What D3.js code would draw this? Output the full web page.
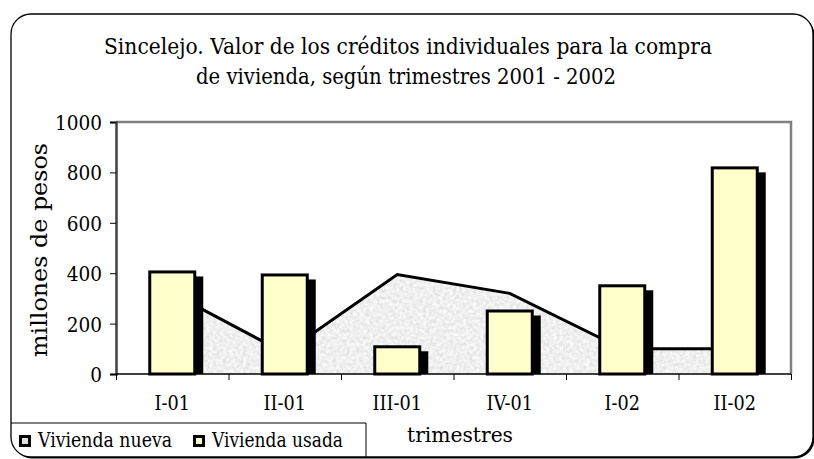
<!DOCTYPE html>
<html><head><meta charset="utf-8">
<script src="https://cdn.jsdelivr.net/npm/d3@7"></script>
<style>body{margin:0;background:#fff}</style>
</head><body><svg id="c" width="814" height="459" xmlns="http://www.w3.org/2000/svg"></svg>
<script>
const categories = ["I-01","II-01","III-01","IV-01","I-02","II-02"];
const viviendaUsada = [405, 393, 108, 250, 350, 818];
const viviendaNueva = [320, 83, 395, 320, 100, 100];
const yTicks = [0, 200, 400, 600, 800, 1000];
const titleLines = ["Sincelejo. Valor de los créditos individuales para la compra", "de vivienda, según trimestres 2001 - 2002"];
const seriesNames = ["Vivienda nueva", "Vivienda usada"];
const yTitle = "millones de pesos";
const xTitle = "trimestres";

const svg = d3.select("#c");
const F = "'DejaVu Serif', serif";
const L = 116, R = 791, T = 122, B = 374;
const YELLOW = "#FFFFCC";

function condense(sel, f) {
  sel.each(function () {
    const w = this.getComputedTextLength();
    d3.select(this).attr("textLength", w * f).attr("lengthAdjust", "spacingAndGlyphs");
  });
}

// defs: noise texture
const defs = svg.append("defs");
const filt = defs.append("filter").attr("id", "noise").attr("filterUnits", "userSpaceOnUse")
  .attr("x", 0).attr("y", 0).attr("width", 814).attr("height", 459);
filt.append("feTurbulence").attr("type", "fractalNoise").attr("baseFrequency", 0.3).attr("numOctaves", 3).attr("seed", 4).attr("result", "t");
const ct = filt.append("feComponentTransfer").attr("in", "t").attr("result", "g");
ct.append("feFuncR").attr("type", "linear").attr("slope", 0.5).attr("intercept", 0.62);
ct.append("feFuncG").attr("type", "linear").attr("slope", 0.5).attr("intercept", 0.62);
ct.append("feFuncB").attr("type", "linear").attr("slope", 0.5).attr("intercept", 0.62);
ct.append("feFuncA").attr("type", "linear").attr("slope", 0).attr("intercept", 1);
filt.append("feColorMatrix").attr("in", "g").attr("type", "saturate").attr("values", 0).attr("result", "gs");
filt.append("feComposite").attr("in", "gs").attr("in2", "SourceGraphic").attr("operator", "in");

// frame
svg.append("rect").attr("x", 12.5).attr("y", 15.5).attr("width", 802).attr("height", 443).attr("rx", 20).attr("fill", "#000");
svg.append("rect").attr("x", 11).attr("y", 14).attr("width", 802).attr("height", 443).attr("rx", 20)
  .attr("fill", "#fff").attr("stroke", "#000").attr("stroke-width", 1.3);

// title
const tPos = [{x: 104, y: 54, w: 608}, {x: 196, y: 84, w: 420}];
svg.selectAll("text.title").data(titleLines).join("text").attr("class", "title")
  .attr("x", (d, i) => tPos[i].x).attr("y", (d, i) => tPos[i].y)
  .attr("textLength", (d, i) => tPos[i].w).attr("lengthAdjust", "spacingAndGlyphs")
  .attr("font-family", F).attr("font-size", 22).attr("fill", "#000").text(d => d);

// scales
const x = d3.scaleBand().domain(categories).range([L, R]).paddingInner(0.6).paddingOuter(0.3);
const xb = d3.scaleLinear().domain([0, categories.length]).range([L, R]);
const y = d3.scaleLinear().domain([0, 1000]).range([B, T]);
const cx = c => x(c) + x.bandwidth() / 2;

// plot border (top & right)
svg.append("path").attr("d", `M${L},${T}H${R}V${B}`).attr("fill", "none").attr("stroke", "#808080").attr("stroke-width", 2.5);

// area series
const pts = categories.map((c, i) => ({c, v: viviendaNueva[i]}));
svg.append("path").datum(pts)
  .attr("d", d3.area().x(d => cx(d.c)).y0(y(0)).y1(d => y(d.v)))
  .attr("fill", "#ddd").attr("filter", "url(#noise)");
svg.append("path").datum(pts)
  .attr("d", d3.line().x(d => cx(d.c)).y(d => y(d.v)))
  .attr("fill", "none").attr("stroke", "#000").attr("stroke-width", 3).attr("stroke-linejoin", "miter");

// bars
const bars = categories.map((c, i) => ({c, v: viviendaUsada[i]}));
const bw = x.bandwidth();
svg.selectAll("rect.shadow").data(bars).join("rect").attr("class", "shadow")
  .attr("x", d => x(d.c) - 1.5 + 7).attr("y", d => y(d.v) - 1.5 + 6)
  .attr("width", bw + 3).attr("height", d => y(0) - (y(d.v) - 1.5 + 6))
  .attr("fill", "#000");
svg.selectAll("rect.bar").data(bars).join("rect").attr("class", "bar")
  .attr("x", d => x(d.c)).attr("y", d => y(d.v))
  .attr("width", bw).attr("height", d => y(0) - y(d.v))
  .attr("fill", YELLOW).attr("stroke", "#000").attr("stroke-width", 3);

// y axis
const ya = svg.append("g").attr("transform", `translate(${L},0)`)
  .call(d3.axisLeft(y).tickValues(yTicks).tickSize(6).tickPadding(8).tickFormat(d3.format("d")));
ya.select(".domain").attr("stroke", "#404040").attr("stroke-width", 2.5);
ya.selectAll(".tick line").attr("stroke", "#000").attr("stroke-width", 1);
ya.selectAll("text").attr("font-family", F).attr("font-size", 21).attr("fill", "#000").attr("dy", "0.36em")
  .call(condense, 0.88);

// x axis ticks at boundaries
const xa = svg.append("g").attr("transform", `translate(0,${B})`)
  .call(d3.axisBottom(xb).tickValues(d3.range(categories.length + 1)).tickSize(6).tickFormat(""));
xa.select(".domain").attr("stroke", "#000").attr("stroke-width", 1.5).attr("d", `M${L},0H${R}`);
xa.selectAll(".tick line").attr("stroke", "#000");

// x labels
const xl = svg.append("g").attr("transform", `translate(0,${B})`)
  .call(d3.axisBottom(x).tickSize(0).tickPadding(21));
xl.select(".domain").remove();
xl.selectAll("text").attr("font-family", F).attr("font-size", 21).attr("fill", "#000").attr("dy", "0.71em")
  .call(condense, 0.84);

// axis titles
svg.append("text").attr("transform", "translate(47,250) rotate(-90)").attr("text-anchor", "middle")
  .attr("font-family", F).attr("font-size", 22).attr("textLength", 214).attr("lengthAdjust", "spacingAndGlyphs")
  .text(yTitle);
svg.append("text").attr("x", 407).attr("y", 442)
  .attr("font-family", F).attr("font-size", 21).attr("textLength", 106).attr("lengthAdjust", "spacingAndGlyphs")
  .text(xTitle);

// legend
svg.append("path").attr("d", "M11,423H366V457").attr("fill", "none").attr("stroke", "#000").attr("stroke-width", 1);
const leg = [
  {name: seriesNames[0], mx: 20.5, tx: 38, tw: 134, fill: "#e0e0e0"},
  {name: seriesNames[1], mx: 194.5, tx: 212, tw: 131, fill: YELLOW}
];
leg.forEach(l => {
  svg.append("rect").attr("x", l.mx).attr("y", 436.5).attr("width", 9).attr("height", 9)
    .attr("fill", l.fill).attr("stroke", "#000").attr("stroke-width", 3);
  svg.append("text").attr("x", l.tx).attr("y", 447).attr("font-family", F).attr("font-size", 20)
    .attr("textLength", l.tw).attr("lengthAdjust", "spacingAndGlyphs").text(l.name);
});
</script>
</body></html>
